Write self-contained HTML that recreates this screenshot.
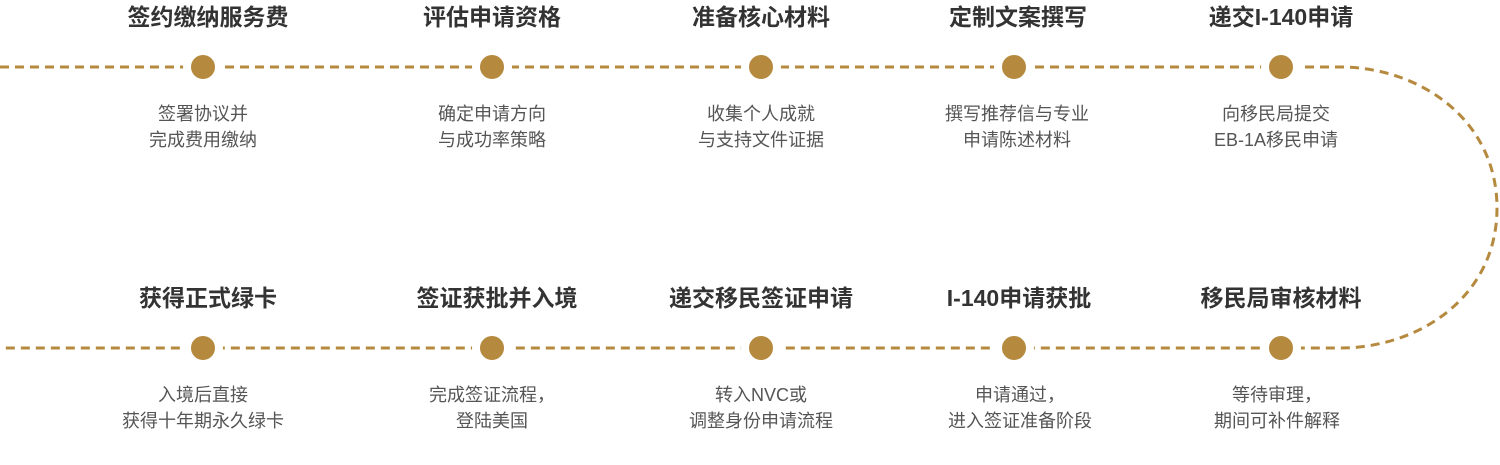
<!DOCTYPE html>
<html><head><meta charset="utf-8"><style>
body{margin:0;width:1500px;height:465px;background:#fff;overflow:hidden;font-family:"Liberation Sans","Noto Sans CJK SC",sans-serif;position:relative}
.t{position:absolute;width:340px;margin-left:-170px;text-align:center;font-weight:bold;font-size:23px;color:#333;line-height:26px}
.d{position:absolute;width:320px;margin-left:-160px;text-align:center;font-size:18px;color:#555;line-height:26px}
svg{position:absolute;left:0;top:0}
</style></head><body>
<svg width="1500" height="465">
<g fill="none" stroke="#b5893e" stroke-width="3" stroke-dasharray="9 6">
<path d="M0,67 H1340 C1420,67 1497,120 1497,208 C1497,296 1420,348 1340,348 H0"/>
</g>
<g fill="#b5893e" stroke="#fff" stroke-width="8">
<circle cx="203" cy="67" r="16"/><circle cx="492" cy="67" r="16"/><circle cx="761" cy="67" r="16"/><circle cx="1014" cy="67" r="16"/><circle cx="1281" cy="67" r="16"/>
<circle cx="203" cy="348" r="16"/><circle cx="492" cy="348" r="16"/><circle cx="761" cy="348" r="16"/><circle cx="1014" cy="348" r="16"/><circle cx="1281" cy="348" r="16"/>
</g>
</svg>
<div class="t" style="left:208px;top:4px">签约缴纳服务费</div>
<div class="t" style="left:492px;top:4px">评估申请资格</div>
<div class="t" style="left:761px;top:4px">准备核心材料</div>
<div class="t" style="left:1018px;top:4px">定制文案撰写</div>
<div class="t" style="left:1281px;top:4px">递交I-140申请</div>
<div class="d" style="left:203px;top:101px">签署协议并<br>完成费用缴纳</div>
<div class="d" style="left:492px;top:101px">确定申请方向<br>与成功率策略</div>
<div class="d" style="left:761px;top:101px">收集个人成就<br>与支持文件证据</div>
<div class="d" style="left:1017px;top:101px">撰写推荐信与专业<br>申请陈述材料</div>
<div class="d" style="left:1276px;top:101px">向移民局提交<br>EB-1A移民申请</div>
<div class="t" style="left:208px;top:285px">获得正式绿卡</div>
<div class="t" style="left:497px;top:285px">签证获批并入境</div>
<div class="t" style="left:761px;top:285px">递交移民签证申请</div>
<div class="t" style="left:1019px;top:285px">I-140申请获批</div>
<div class="t" style="left:1281px;top:285px">移民局审核材料</div>
<div class="d" style="left:203px;top:382px">入境后直接<br>获得十年期永久绿卡</div>
<div class="d" style="left:492px;top:382px">完成签证流程，<br>登陆美国</div>
<div class="d" style="left:761px;top:382px">转入NVC或<br>调整身份申请流程</div>
<div class="d" style="left:1020px;top:382px">申请通过，<br>进入签证准备阶段</div>
<div class="d" style="left:1277px;top:382px">等待审理，<br>期间可补件解释</div>
</body></html>
